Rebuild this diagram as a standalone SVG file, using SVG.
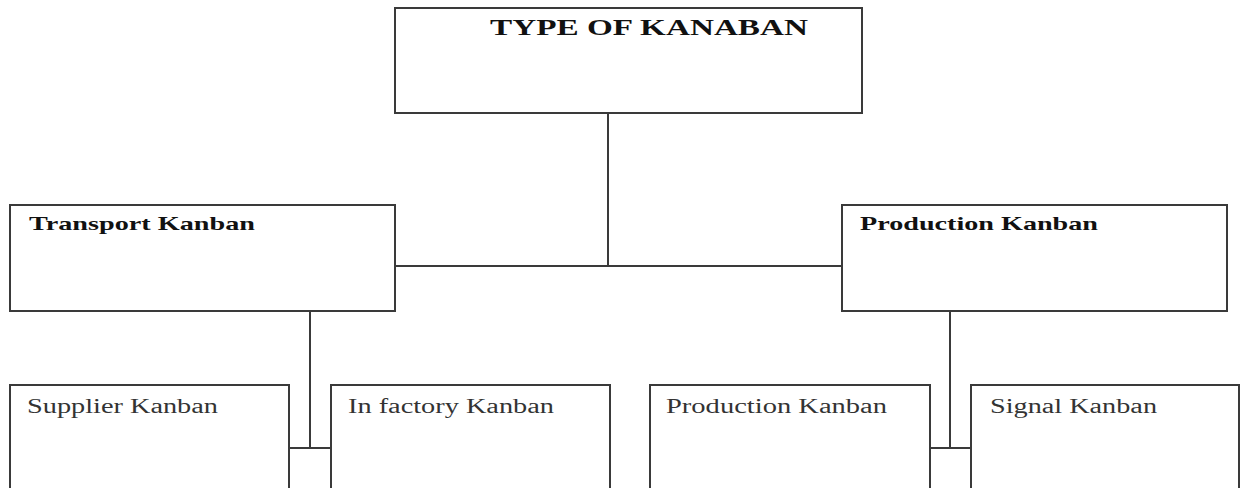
<svg xmlns="http://www.w3.org/2000/svg" width="1248" height="488" viewBox="0 0 1248 488">
  <style>
    .box { fill: #ffffff; stroke: #3a3a3a; stroke-width: 2; }
    .link { fill: none; stroke: #3a3a3a; stroke-width: 2; }
    .title { font-family: "Liberation Serif", "Times New Roman", serif; font-weight: bold; font-size: 24px; fill: #111; }
    .head { font-family: "Liberation Serif", "Times New Roman", serif; font-weight: bold; font-size: 19px; fill: #111; }
    .leaf { font-family: "Liberation Serif", "Times New Roman", serif; font-size: 20px; fill: #333; }
  </style>
  <rect width="1248" height="488" fill="#ffffff"/>

  <!-- connectors -->
  <g id="connectors">
    <path class="link" d="M608 113 V266"/>
    <path class="link" d="M395 266 H842"/>
    <path class="link" d="M310 311 V448"/>
    <path class="link" d="M289 448 H331"/>
    <path class="link" d="M950 311 V448"/>
    <path class="link" d="M930 448 H971"/>
  </g>

  <!-- root -->
  <g id="type-of-kanban">
    <rect class="box" x="395" y="8" width="467" height="105"/>
    <text class="title" x="490" y="35" textLength="318" lengthAdjust="spacingAndGlyphs">TYPE OF KANABAN</text>
  </g>

  <!-- second level -->
  <g id="transport-kanban">
    <rect class="box" x="10" y="205" width="385" height="106"/>
    <text class="head" x="29" y="230" textLength="226" lengthAdjust="spacingAndGlyphs">Transport Kanban</text>
  </g>
  <g id="production-kanban">
    <rect class="box" x="842" y="205" width="385" height="106"/>
    <text class="head" x="860" y="230" textLength="238" lengthAdjust="spacingAndGlyphs">Production Kanban</text>
  </g>

  <!-- third level -->
  <g id="supplier-kanban">
    <rect class="box" x="10" y="385" width="279" height="115"/>
    <text class="leaf" x="27" y="413" textLength="191" lengthAdjust="spacingAndGlyphs">Supplier Kanban</text>
  </g>
  <g id="in-factory-kanban">
    <rect class="box" x="331" y="385" width="279" height="115"/>
    <text class="leaf" x="348" y="413" textLength="206" lengthAdjust="spacingAndGlyphs">In factory Kanban</text>
  </g>
  <g id="production-kanban-leaf">
    <rect class="box" x="650" y="385" width="280" height="115"/>
    <text class="leaf" x="666" y="413" textLength="221" lengthAdjust="spacingAndGlyphs">Production Kanban</text>
  </g>
  <g id="signal-kanban">
    <rect class="box" x="971" y="385" width="268" height="115"/>
    <text class="leaf" x="990" y="413" textLength="167" lengthAdjust="spacingAndGlyphs">Signal Kanban</text>
  </g>
</svg>
